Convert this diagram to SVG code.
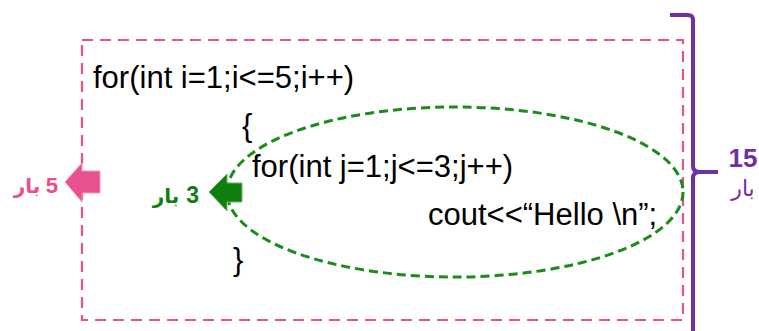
<svg xmlns="http://www.w3.org/2000/svg" width="759" height="331" viewBox="0 0 759 331">
<style>
.code{font-family:"Liberation Sans",Arial,sans-serif;font-size:31px;fill:#000}
.lbl{font-family:"Liberation Sans","DejaVu Sans",sans-serif;font-weight:bold}
.ar{font-family:"Noto Sans","DejaVu Sans",sans-serif}
</style>
<rect width="759" height="331" fill="#fff"/>
<g id="outer-loop">
<rect x="82" y="40" width="601" height="280" fill="none" stroke="#E8508E" stroke-width="2.2" stroke-dasharray="11,7"/>
</g>
<g id="inner-loop">
<ellipse cx="455" cy="192" rx="228" ry="85" fill="none" stroke="#1A8C1A" stroke-width="3" stroke-dasharray="9,5"/>
</g>
<g id="code">
<text class="code" x="93" y="88">for(int i=1;i&lt;=5;i++)</text>
<text class="code" x="242" y="136">{</text>
<text class="code" x="252" y="177">for(int j=1;j&lt;=3;j++)</text>
<text class="code" x="428" y="225">cout&lt;&lt;“Hello \n”;</text>
<text class="code" x="233" y="270">}</text>
</g>
<g id="connectors">
<path d="M65,182 L82,163 L82,171 L100,171 L100,193 L82,193 L82,202 Z" fill="#E8508E" stroke="#F49BC0" stroke-width="1"/>
<path d="M209,192 L227,174 L227,183 L242,183 L242,202 L227,202 L227,211 Z" fill="#0F7F0F" stroke="#6BB56B" stroke-width="1"/>
<path d="M670,15 L688,15 Q693,15 693,20 L693,166 Q693,172 700,172 L718,172 M693,331 L693,178 Q693,172 700,172" fill="none" stroke="#7030A0" stroke-width="4"/>
</g>
<g id="label-5">
<text class="lbl" x="58" y="193" font-size="22" fill="#E8508E" text-anchor="end">5</text>
<text class="ar" x="27" y="193" font-size="20" fill="#E8508E" text-anchor="middle" font-weight="bold">بار</text>
</g>
<g id="label-3">
<text class="lbl" x="199" y="203" font-size="23" fill="#0F7F0F" text-anchor="end">3</text>
<text class="ar" x="166" y="203" font-size="20" fill="#0F7F0F" text-anchor="middle" font-weight="bold">بار</text>
</g>
<g id="label-15">
<text class="lbl" x="743" y="167" font-size="26" fill="#7030A0" text-anchor="middle">15</text>
<text class="ar" x="743" y="196" font-size="22" fill="#7030A0" text-anchor="middle">بار</text>
</g>
</svg>
